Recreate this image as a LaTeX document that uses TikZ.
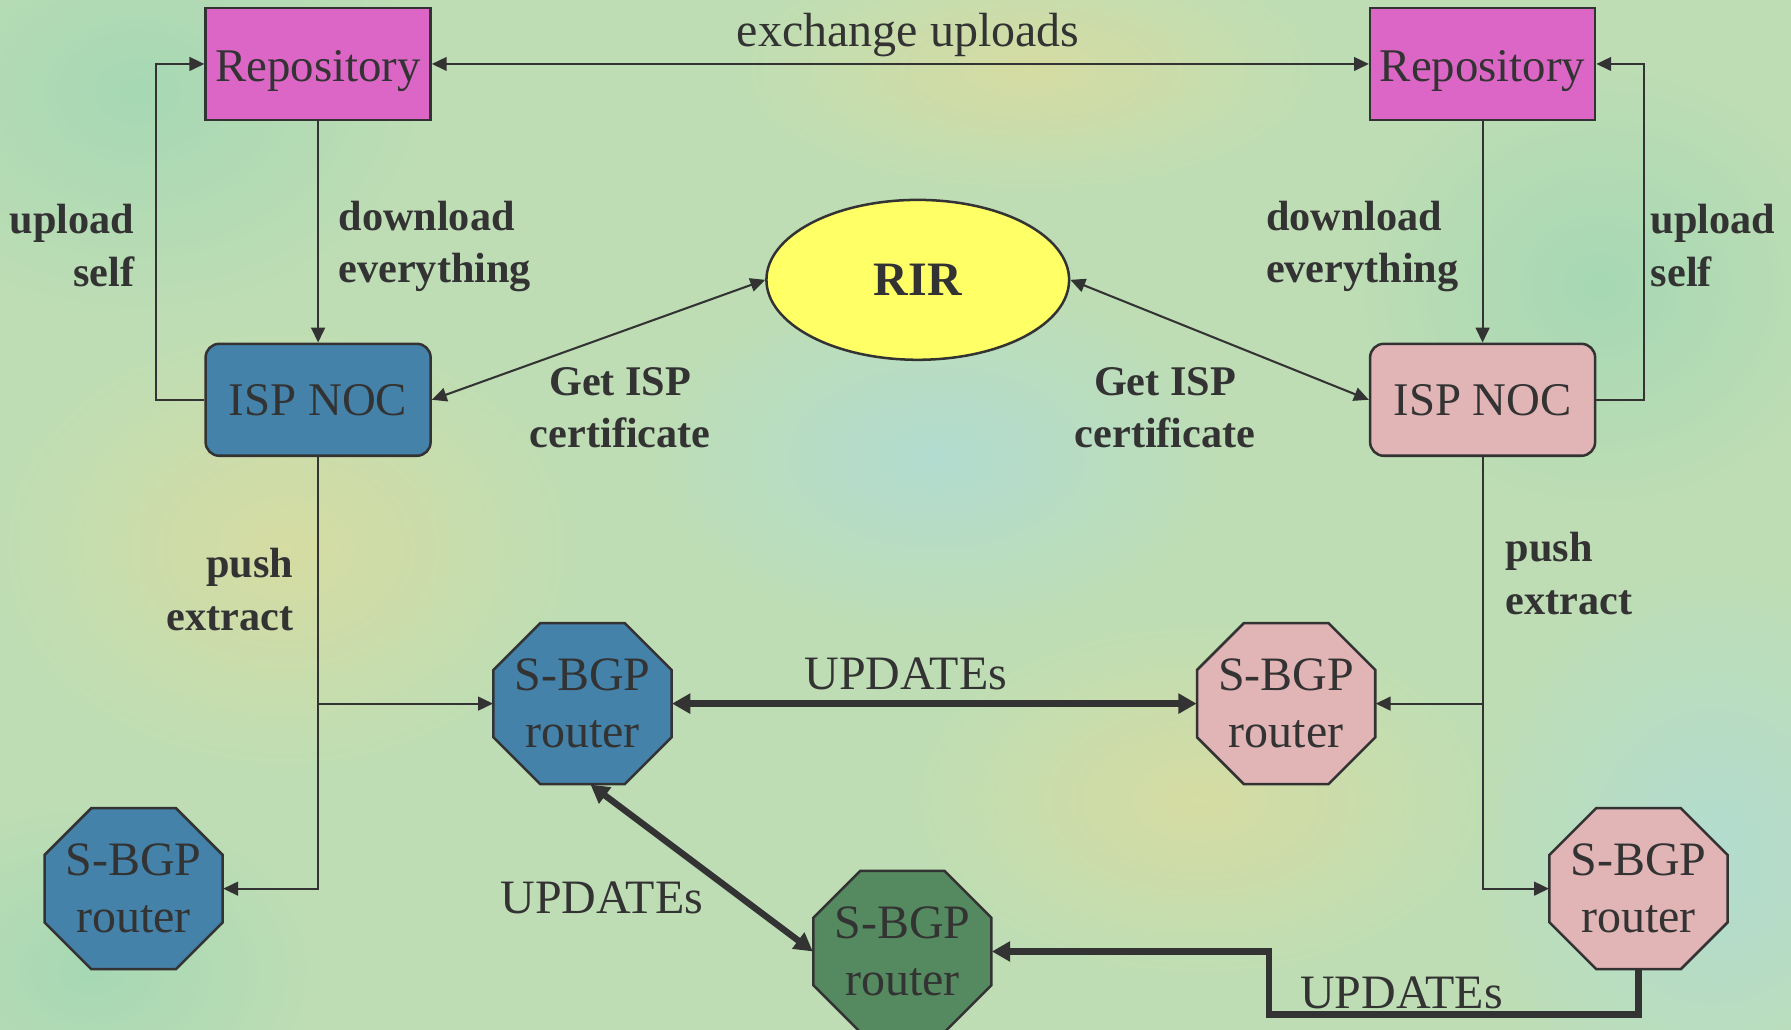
\documentclass[tikz,border=0pt]{standalone}
\usepackage{fontspec}
\setmainfont{Liberation Serif}
\usetikzlibrary{shapes.geometric,arrows.meta,calc}
\definecolor{linec}{HTML}{333333}
\definecolor{repoc}{HTML}{DC66C6}
\definecolor{bluec}{HTML}{4482AA}
\definecolor{pinkc}{HTML}{E1B4B6}
\definecolor{rirc}{HTML}{FFFF66}
\definecolor{greenc}{HTML}{558A60}
\definecolor{bgc}{HTML}{BEDDB4}
\definecolor{bgy}{HTML}{D6DCA2}
\definecolor{bgb}{HTML}{B2DCD0}
\definecolor{bgm}{HTML}{A6D8B4}
\newcommand{\sbgp}[4]{%
  \filldraw[fill=#4, draw=linec, line width=1.1pt, shift={(#2,#3)}] (-78,-29.5) -- (-37,-70.5) -- (37,-70.5) -- (78,-29.5) -- (78,29.5) -- (37,70.5) -- (-37,70.5) -- (-78,29.5) -- cycle;
  \node[router] (#1) at (#2,#3) {S-BGP\\router};}
\begin{document}
\begin{tikzpicture}[x=0.5pt,y=-0.5pt,
  box/.style={draw=linec, line width=1.1pt, minimum width=98.5pt, minimum height=49pt, inner sep=0pt, font=\fontsize{20.5}{24}\selectfont, text=linec},
  router/.style={minimum width=78pt, minimum height=70.5pt, inner sep=0pt, align=center, font=\fontsize{21}{25}\selectfont, text=linec},
  lbl/.style={font=\bfseries\fontsize{18.5}{23}\selectfont, text=linec, inner sep=0pt},
  upd/.style={font=\fontsize{21}{25}\selectfont, text=linec, inner sep=0pt},
  conn/.style={draw=linec, line width=0.9pt},
  tip/.style={-{Triangle[length=6.5pt,width=6pt]}},
  tips/.style={{Triangle[length=6.5pt,width=6pt]}-{Triangle[length=6.5pt,width=6pt]}},
  thickc/.style={draw=linec, line width=2.8pt},
  ttip/.style={-{Triangle[length=8pt,width=8.5pt]}},
  ttips/.style={{Triangle[length=8pt,width=8.5pt]}-{Triangle[length=8pt,width=8.5pt]}}
]
\clip (0,0) rectangle (1568,901.75);
% background
\fill[bgc] (-10,-10) rectangle (1580,915);
\shade[inner color=bgm, outer color=bgc] (120,80) ellipse (260 and 200);
\shade[inner color=bgy, outer color=bgc] (900,60) ellipse (260 and 110);
\shade[inner color=bgy, outer color=bgc] (250,480) ellipse (260 and 200);
\shade[inner color=bgb, outer color=bgc] (1500,750) ellipse (220 and 260);
\shade[inner color=bgb, outer color=bgc] (820,400) ellipse (260 and 160);
\shade[inner color=bgy, outer color=bgc] (1050,700) ellipse (260 and 160);
\shade[inner color=bgm, outer color=bgc] (1400,250) ellipse (220 and 200);
\shade[inner color=bgm, outer color=bgc] (80,850) ellipse (200 and 150);

% nodes
\node[box, fill=repoc, text height=15pt, text depth=0pt] (repoL) at (278.5,56) {Repository};
\node[box, fill=repoc, text height=15pt, text depth=0pt] (repoR) at (1298,56) {Repository};
\node[box, fill=bluec, rounded corners=6pt] (nocL) at (278.5,350) {ISP NOC};
\node[box, fill=pinkc, rounded corners=6pt] (nocR) at (1298,350) {ISP NOC};
\node[ellipse, draw=linec, line width=1.1pt, fill=rirc, minimum width=132.5pt, minimum height=70pt, inner sep=0pt, font=\bfseries\fontsize{21}{25}\selectfont, text=linec] (rir) at (803.5,245) {RIR};

\sbgp{r1}{510}{616}{bluec}
\sbgp{r2}{117}{778}{bluec}
\sbgp{r3}{1126}{616}{pinkc}
\sbgp{r4}{1434.5}{778}{pinkc}
\sbgp{g}{790}{833}{greenc}
\coordinate (bend) at (1111,888);

% labels
\node[upd] (xl) at (795,31) {exchange uploads};
\node[lbl, anchor=east, align=right] (ulL) at (118,215) {upload\\self};
\node[lbl, anchor=west, align=left] (dlL) at (296,216) {download\\everything};
\node[lbl, anchor=west, align=left] (dlR) at (1108,216) {download\\everything};
\node[lbl, anchor=west, align=left] (ulR) at (1445,215) {upload\\self};
\node[lbl, align=center] (gcL) at (543,357) {Get ISP\\certificate};
\node[lbl, align=center] (gcR) at (1020,357) {Get ISP\\certificate};
\node[lbl, anchor=east, align=right] (peL) at (257,516) {push\\extract};
\node[lbl, anchor=west, align=left] (peR) at (1318,502) {push\\extract};
\node[upd] (u1) at (793,590) {UPDATEs};
\node[upd] (u2) at (527,786) {UPDATEs};
\node[upd] (u3) at (1227,869) {UPDATEs};

% connectors
\draw[conn, tips] (repoL.east) -- (repoR.west);
\draw[conn, tip] (repoL.south) -- (nocL.north);
\draw[conn, tip] (repoR.south) -- (nocR.north);
\draw[conn, tip] (nocL.west) -- ++(-42,0) |- (repoL.west);
\draw[conn, tip] (nocR.east) -- ++(42,0) |- (repoR.east);
\draw[conn, tips] (nocL.east) -- (rir.west);
\draw[conn, tips] (nocR.west) -- (rir.east);
\draw[conn, tip] (nocL.south) |- (r2.east);
\draw[conn, tip] (nocL.south |- r1.west) -- (r1.west);
\draw[conn, tip] (nocR.south) |- (r4.west);
\draw[conn, tip] (nocR.south |- r3.east) -- (r3.east);
\draw[thickc, ttips] (r1.east) -- (r3.west);
\draw[thickc, ttips] ([xshift=3.5pt]r1.south) -- (g.west);
\draw[thickc, ttip] (r4.south) |- (bend) |- (g.east);
\end{tikzpicture}
\end{document}
